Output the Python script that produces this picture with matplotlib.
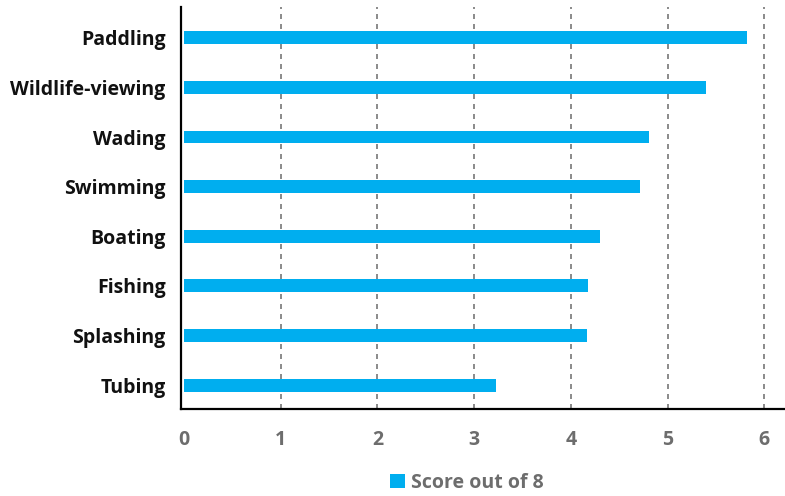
import matplotlib
matplotlib.use("Agg")
import matplotlib.pyplot as plt

categories = ["Paddling", "Wildlife-viewing", "Wading", "Swimming", "Boating", "Fishing", "Splashing", "Tubing"]
values = [5.82, 5.40, 4.81, 4.72, 4.30, 4.18, 4.17, 3.23]
xticks = [0, 1, 2, 3, 4, 5, 6]
series_name = "Score out of 8"

W, H = 785, 496
fig = plt.figure(figsize=(W / 100, H / 100), dpi=100)
ax = fig.add_axes([181 / W, 1 - 409 / H, (785 - 181) / W, (409 - 7) / H])

n = len(categories)
ypos = list(range(n - 1, -1, -1))
ax.barh(ypos, values, height=0.26, color="#00AEEF", label=series_name, zorder=3)

ax.set_xlim(-0.031, 6.215)
ax.set_ylim(-0.48, n - 1 + 0.62)
ax.set_xticks(xticks)
ax.set_xticklabels([str(t) for t in xticks])
ax.set_yticks(ypos)
ax.set_yticklabels(categories)

for s in ["top", "right"]:
    ax.spines[s].set_visible(False)
for s in ["left", "bottom"]:
    ax.spines[s].set_color("black")
    ax.spines[s].set_linewidth(1.6)
    ax.spines[s].set_zorder(4)

ax.grid(axis="x", color="#777777", linestyle=(0, (3, 3)), linewidth=1.2, zorder=1)
ax.grid(axis="y", visible=False)
ax.xaxis.get_gridlines()[0].set_visible(False)
ax.tick_params(axis="both", length=0)
ax.tick_params(axis="x", pad=15, labelcolor="#6d6d6d", labelsize=14)
ax.tick_params(axis="y", pad=11, labelcolor="#111111", labelsize=14)
for lab in ax.get_xticklabels() + ax.get_yticklabels():
    lab.set_fontweight("bold")
    lab.set_family(["Open Sans", "DejaVu Sans"])

leg = fig.legend(loc="center", bbox_to_anchor=(467 / W, 1 - 483 / H), frameon=False,
                 handlelength=0.75, handleheight=0.75, handletextpad=0.35,
                 prop={"family": ["Open Sans", "DejaVu Sans"], "weight": "bold", "size": 14})
for t in leg.get_texts():
    t.set_color("#6d6d6d")

fig.savefig("out.png", dpi=100)
